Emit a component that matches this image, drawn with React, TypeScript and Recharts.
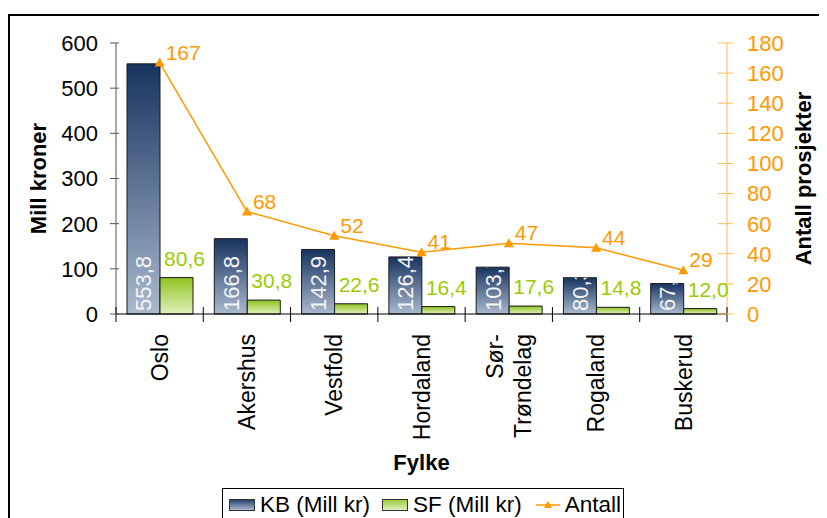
import React from 'react';
import { ComposedChart, Bar, Line, XAxis, YAxis, LabelList, Label } from 'recharts';

// data
const fylker = ['Oslo', 'Akershus', 'Vestfold', 'Hordaland', 'Sør-Trøndelag', 'Rogaland', 'Buskerud'];
const kbMill = [553.8, 166.8, 142.9, 126.4, 103.7, 80.3, 67.4];
const sfMill = [80.6, 30.8, 22.6, 16.4, 17.6, 14.8, 12.0];
const antallProsjekter = [167, 68, 52, 41, 47, 44, 29];
const leftTicks = [0, 100, 200, 300, 400, 500, 600];
const rightTicks = [0, 20, 40, 60, 80, 100, 120, 140, 160, 180];

const data = fylker.map((fylke, i) => ({
  fylke,
  kb: kbMill[i],
  sf: sfMill[i],
  antall: antallProsjekter[i],
}));

const FONT = '"Liberation Sans", Arial, sans-serif';
const ORANGE = '#FF9900';
const ORANGE_AXIS = '#FFBB55';
const GREEN = '#99CC00';
const PLOT_W = 611;
const BAND = PLOT_W / fylker.length;

const fmt = (v: number) => v.toFixed(1).replace('.', ',');

// label props differ a bit between series, take viewBox first
const box = (p: any) => {
  const vb = p.viewBox || {};
  return {
    x: vb.x ?? p.x,
    y: vb.y ?? p.y,
    width: vb.width ?? p.width ?? 0,
    height: vb.height ?? p.height ?? 0,
  };
};

const KbLabel = (p: any) => {
  const { x, y, width, height } = box(p);
  const id = `kb-clip-${p.index}`;
  const cx = x + width / 2;
  const by = y + height - 3;
  return (
    <g>
      <defs>
        <clipPath id={id}>
          <rect x={x} y={y} width={width} height={height} />
        </clipPath>
      </defs>
      <g clipPath={`url(#${id})`}>
        <text
          x={cx}
          y={by}
          dy="0.36em"
          transform={`rotate(-90 ${cx} ${by})`}
          textAnchor="start"
          fill="#F4F4F4"
          fontSize={22}
          fontFamily={FONT}
        >
          {fmt(Number(p.value))}
        </text>
      </g>
    </g>
  );
};

const SfLabel = (p: any) => {
  const { x, y, width } = box(p);
  return (
    <text x={x + width / 2 + 8} y={y - 12} textAnchor="middle" fill={GREEN} fontSize={21} fontFamily={FONT}>
      {fmt(Number(p.value))}
    </text>
  );
};

const AntallLabel = (p: any) => {
  const { x, y } = box(p);
  return (
    <text x={x + 6} y={y - 3} textAnchor="start" fill={ORANGE} fontSize={21} fontFamily={FONT}>
      {p.value}
    </text>
  );
};

const TriangleDot = (p: any) => {
  const { cx, cy, index } = p;
  return (
    <polygon
      key={`tri-${index}`}
      points={`${cx},${cy - 5} ${cx - 5},${cy + 4} ${cx + 5},${cy + 4}`}
      fill={ORANGE}
    />
  );
};

const XTick = (p: any) => {
  const { x, y, payload, index } = p;
  const lines: string[] = String(payload.value).split(/(?<=-)/);
  return (
    <g>
      <line x1={x - BAND / 2} x2={x - BAND / 2} y1={y - 9} y2={y + 6} stroke="#000" />
      {index === fylker.length - 1 && (
        <line x1={x + BAND / 2} x2={x + BAND / 2} y1={y - 9} y2={y + 6} stroke="#000" />
      )}
      {lines.map((t, i) => {
        const lx = x + (i - (lines.length - 1) / 2) * 28;
        const ty = y + 18;
        return (
          <text
            key={t}
            x={lx}
            y={ty}
            dy="0.36em"
            transform={`rotate(-90 ${lx} ${ty})`}
            textAnchor="end"
            fill="#000"
            fontSize={23}
            fontFamily={FONT}
          >
            {t}
          </text>
        );
      })}
    </g>
  );
};

const LeftTick = (p: any) => {
  const { x, y, payload } = p;
  return (
    <g>
      <line x1={x + 12} x2={x + 21} y1={y} y2={y} stroke="#555" />
      <text x={x} y={y} dy="0.36em" textAnchor="end" fill="#000" fontSize={22} fontFamily={FONT}>
        {payload.value}
      </text>
    </g>
  );
};

const RightTick = (p: any) => {
  const { x, y, payload } = p;
  return (
    <g>
      <line x1={x - 29} x2={x - 14} y1={y} y2={y} stroke={ORANGE_AXIS} />
      <text x={x} y={y} dy="0.36em" textAnchor="start" fill={ORANGE} fontSize={22} fontFamily={FONT}>
        {payload.value}
      </text>
    </g>
  );
};

const axisTitle = (text: string, dx: number, angle: number) => (p: any) => {
  const vb = p.viewBox;
  const cx = vb.x + dx;
  const cy = vb.y + vb.height / 2;
  return (
    <text
      x={cx}
      y={cy}
      dy="0.36em"
      transform={`rotate(${angle} ${cx} ${cy})`}
      textAnchor="middle"
      fill="#000"
      fontSize={22}
      fontWeight="bold"
      fontFamily={FONT}
    >
      {text}
    </text>
  );
};

const XTitle = (p: any) => {
  const vb = p.viewBox;
  return (
    <text
      x={vb.x + vb.width / 2}
      y={vb.y + 148}
      dy="0.36em"
      textAnchor="middle"
      fill="#000"
      fontSize={22}
      fontWeight="bold"
      fontFamily={FONT}
    >
      Fylke
    </text>
  );
};

const legendText: React.CSSProperties = { fontSize: 22.5, fontFamily: FONT, color: '#000', marginLeft: 5, lineHeight: '22px' };

export default function App() {
  return (
    <div style={{ position: 'relative', width: 819, height: 510, overflow: 'hidden' }}>
      {/* chart frame, cut off at right and bottom like the original */}
      <div
        style={{
          position: 'absolute',
          left: 0,
          top: 6,
          width: 1000,
          height: 1000,
          border: '2px solid #000',
          boxSizing: 'border-box',
        }}
      />
      <div style={{ position: 'absolute', left: 0, top: 0 }}>
        <ComposedChart
          width={819}
          height={510}
          data={data}
          margin={{ top: 35, right: 0, left: 0, bottom: 0 }}
          barGap={0}
        >
          <defs>
            <linearGradient id="kbGrad" x1="0" y1="0" x2="0" y2="1">
              <stop offset="0%" stopColor="#17335F" />
              <stop offset="100%" stopColor="#A9B9CE" />
            </linearGradient>
            <linearGradient id="sfGrad" x1="0" y1="0" x2="0" y2="1">
              <stop offset="0%" stopColor="#8FC31F" />
              <stop offset="100%" stopColor="#E2F1BE" />
            </linearGradient>
          </defs>
          <XAxis
            dataKey="fylke"
            height={204}
            interval={0}
            tickSize={0}
            tickLine={false}
            axisLine={{ stroke: '#000' }}
            tick={<XTick />}
          >
            <Label content={XTitle} />
          </XAxis>
          <YAxis
            yAxisId="left"
            width={108}
            domain={[0, 600]}
            ticks={leftTicks}
            tickSize={6}
            tickMargin={12}
            tickLine={false}
            axisLine={{ stroke: '#555' }}
            tick={<LeftTick />}
          >
            <Label content={axisTitle('Mill kroner', 30, -90)} />
          </YAxis>
          <YAxis
            yAxisId="right"
            orientation="right"
            width={100}
            domain={[0, 180]}
            ticks={rightTicks}
            tickSize={6}
            tickMargin={14}
            tickLine={false}
            axisLine={{ stroke: ORANGE_AXIS }}
            tick={<RightTick />}
          >
            <Label content={axisTitle('Antall prosjekter', 76, -90)} />
          </YAxis>
          <Bar
            yAxisId="left"
            dataKey="kb"
            name="KB (Mill kr)"
            barSize={33}
            fill="url(#kbGrad)"
            stroke="#1a1a1a"
            strokeWidth={1}
            isAnimationActive={false}
          >
            <LabelList dataKey="kb" content={KbLabel} />
          </Bar>
          <Bar
            yAxisId="left"
            dataKey="sf"
            name="SF (Mill kr)"
            barSize={33}
            fill="url(#sfGrad)"
            stroke="#1a1a1a"
            strokeWidth={1}
            isAnimationActive={false}
          >
            <LabelList dataKey="sf" content={SfLabel} />
          </Bar>
          <Line
            yAxisId="right"
            dataKey="antall"
            name="Antall"
            stroke={ORANGE}
            strokeWidth={1.5}
            dot={TriangleDot}
            activeDot={false}
            isAnimationActive={false}
          >
            <LabelList dataKey="antall" content={AntallLabel} />
          </Line>
        </ComposedChart>
      </div>

      {/* legend box */}
      <div
        style={{
          position: 'absolute',
          left: 214,
          top: 480,
          width: 402,
          height: 60,
          border: '1px solid #000',
          boxSizing: 'border-box',
          background: '#fff',
        }}
      >
        <div style={{ display: 'flex', alignItems: 'center', position: 'absolute', top: 5, left: 6 }}>
          <div
            style={{
              width: 24,
              height: 10,
              border: '1px solid #333',
              background: 'linear-gradient(to bottom, #2A4470, #A9B9CE)',
            }}
          />
          <span style={legendText}>KB (Mill kr)</span>
          <div
            style={{
              width: 24,
              height: 10,
              border: '1px solid #333',
              marginLeft: 12,
              background: 'linear-gradient(to bottom, #9BCB3A, #E2F1BE)',
            }}
          />
          <span style={legendText}>SF (Mill kr)</span>
          <svg width={24} height={12} style={{ marginLeft: 14 }}>
            <line x1={0} x2={24} y1={6} y2={6} stroke={ORANGE} strokeWidth={1.5} />
            <polygon points="12,2 8,9 16,9" fill={ORANGE} />
          </svg>
          <span style={legendText}>Antall</span>
        </div>
      </div>
    </div>
  );
}
